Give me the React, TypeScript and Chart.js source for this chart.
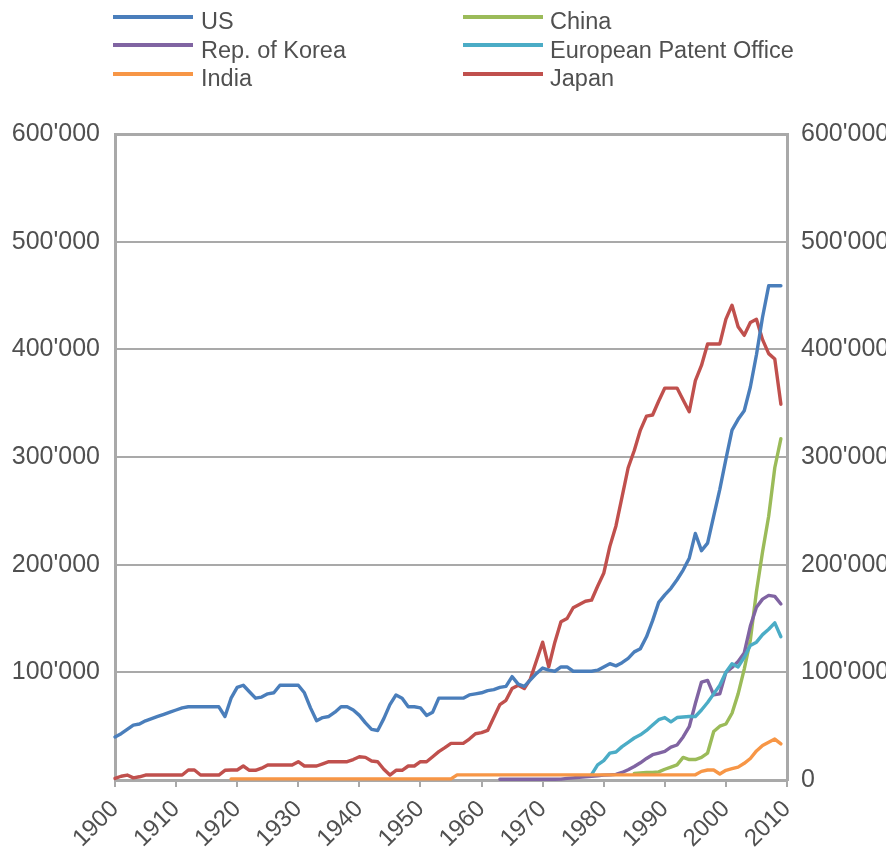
import React, { useEffect, useRef } from 'react';
import { Chart, registerables } from 'chart.js';

Chart.register(...registerables);

// ---------------- data ----------------
const xMin = 1900;
const xMax = 2010;
const yMax = 600000;

const usStart = 1900;
const usValues = [
  40000, 43000, 47000, 51000, 52000, 55000, 57000, 59000, 61000, 63000,
  65000, 67000, 68000, 68000, 68000, 68000, 68000, 68000, 59000, 76000,
  86000, 88000, 82000, 76000, 77000, 80000, 81000, 88000, 88000, 88000,
  88000, 81000, 67000, 55000, 58000, 59000, 63000, 68000, 68000, 65000,
  60000, 53000, 47000, 46000, 57000, 70000, 79000, 76000, 68000, 68000,
  67000, 60000, 63000, 76000, 76000, 76000, 76000, 76000, 79000, 80000,
  81000, 83000, 84000, 86000, 87000, 96000, 89000, 87000, 93000, 99000,
  104000, 102000, 101000, 105000, 105000, 101000, 101000, 101000, 101000, 102000,
  105000, 108000, 106000, 109000, 113000, 119000, 122000, 133000, 148000, 165000,
  172000, 178000, 186000, 195000, 206000, 229000, 213000, 220000, 245000, 270000,
  298000, 325000, 335000, 343000, 365000, 395000, 430000, 459000, 459000, 459000,
];

const japanStart = 1900;
const japanValues = [
  1500, 3500, 4600, 2000, 3000, 4600, 4600, 4600, 4600, 4600,
  4600, 4600, 9300, 9300, 4600, 4600, 4600, 4600, 9000, 9300,
  9300, 13000, 9000, 9000, 11000, 13900, 13900, 13900, 13900, 13900,
  17000, 13000, 13000, 13000, 15000, 17000, 17000, 17000, 17000, 19000,
  21600, 21000, 17600, 17000, 10000, 4600, 9000, 9000, 13000, 13000,
  17000, 17000, 21600, 26300, 30000, 34000, 34000, 34000, 38000, 43000,
  44000, 46000, 58000, 70000, 74000, 85000, 88000, 85000, 94000, 111000,
  128000, 105000, 128000, 147000, 150000, 160000, 163000, 166000, 167000, 180000,
  192000, 217000, 236000, 263000, 290000, 306000, 325000, 338000, 339000, 352000,
  364000, 364000, 364000, 353000, 342000, 371000, 385000, 405000, 405000, 405000,
  428000, 441000, 421000, 413000, 425000, 428000, 409000, 396000, 391000, 349000,
];

const koreaStart = 1963;
const koreaValues = [
  700, 700, 700, 700, 700, 700, 700, 700, 700, 700,
  800, 1500, 2000, 2500, 3000, 3500, 4000, 4500, 4800, 5200,
  7000, 9500, 12500, 16000, 20000, 23500, 25000, 26500, 30500, 32500,
  40000, 49500, 71000, 91000, 92500, 79000, 80000, 100000, 104500, 110000,
  118000, 143000, 160500, 168000, 171500, 170500, 163500,
];

const epoStart = 1978;
const epoValues = [
  5000, 14000, 18000, 25000, 26000, 31000, 35000, 39000, 42000, 46000,
  51000, 56000, 58000, 54000, 58000, 58500, 59000, 59000, 65000, 72000,
  80000, 88000, 100000, 108000, 105000, 114000, 125000, 128000, 135000, 140000,
  146000, 133000,
];

const chinaStart = 1985;
const chinaValues = [
  6000, 6500, 7000, 7000, 7500,
  10000, 12000, 14000, 21000, 19000,
  19000, 21000, 25000, 45000, 50000,
  52000, 62000, 80000, 103000, 130000,
  175000, 212000, 245000, 290000, 317000,
];

const indiaStart = 1919;
const indiaValues = [
  1000, 1000, 1000, 1000, 1000, 1000, 1000, 1000, 1000, 1000,
  1000, 1000, 1000, 1000, 1000, 1000, 1000, 1000, 1000, 1000,
  1000, 1000, 1000, 1000, 1000, 1000, 1000, 1000, 1000, 1000,
  1000, 1000, 1000, 1000, 1000, 1000, 1000,
  4800, 4800, 4800, 4800, 4800, 4800, 4800, 4800, 4800, 4800,
  4800, 4800, 4800, 4800, 4800, 4800, 4800, 4800, 4800, 4800,
  4800, 4800, 4800, 4800, 4800, 4800, 4800, 4800, 4800, 4800,
  4800, 4800, 4800, 4800, 4800, 4800, 4800, 4800, 4800, 4800,
  8000, 9300, 9300, 5600, 9000, 10500, 12000, 15500, 20000, 27000,
  32000, 35000, 38000, 33500,
];

const seriesNames = ['US', 'China', 'Rep. of Korea', 'European Patent Office', 'India', 'Japan'];
const seriesColors = ['#4a7ebb', '#9bbb59', '#8064a2', '#4bacc6', '#f79646', '#c0504d'];

// ---------------- layout ----------------
const CANVAS_W = 1000;
const CANVAS_H = 851;
const PLOT_LEFT = 115;
const PLOT_RIGHT = 787;
const PLOT_TOP = 134;
const PLOT_BOTTOM = 780;
const FONT = '"Liberation Sans", Arial, Helvetica, sans-serif';
const TEXT = '#505050';
const GRID = '#a9a9a9';

function toPoints(start: number, values: number[]) {
  return values.map((v, i) => ({ x: start + i, y: v }));
}

const legendItems = [
  { name: seriesNames[0], color: seriesColors[0], col: 0, row: 0 },
  { name: seriesNames[2], color: seriesColors[2], col: 0, row: 1 },
  { name: seriesNames[4], color: seriesColors[4], col: 0, row: 2 },
  { name: seriesNames[1], color: seriesColors[1], col: 1, row: 0 },
  { name: seriesNames[3], color: seriesColors[3], col: 1, row: 1 },
  { name: seriesNames[5], color: seriesColors[5], col: 1, row: 2 },
];

export default function App() {
  const ref = useRef<HTMLCanvasElement | null>(null);

  useEffect(() => {
    if (!ref.current) return;
    const mk = (label: string, color: string, data: { x: number; y: number }[]) => ({
      label,
      data,
      borderColor: color,
      backgroundColor: color,
      borderWidth: 3.4,
      pointRadius: 0,
      tension: 0,
      borderJoinStyle: 'round' as const,
      borderCapStyle: 'round' as const,
      clip: 6,
    });
    const chart = new Chart(ref.current, {
      type: 'line',
      data: {
        datasets: [
          mk('India', seriesColors[4], toPoints(indiaStart, indiaValues)),
          mk('US', seriesColors[0], toPoints(usStart, usValues)),
          mk('Japan', seriesColors[5], toPoints(japanStart, japanValues)),
          mk('European Patent Office', seriesColors[3], toPoints(epoStart, epoValues)),
          mk('Rep. of Korea', seriesColors[2], toPoints(koreaStart, koreaValues)),
          mk('China', seriesColors[1], toPoints(chinaStart, chinaValues)),
        ],
      },
      options: {
        responsive: false,
        animation: false,
        devicePixelRatio: 1,
        layout: { padding: { top: PLOT_TOP, left: 0, right: 0, bottom: 0 } },
        plugins: { legend: { display: false }, tooltip: { enabled: false } },
        scales: {
          x: {
            type: 'linear',
            min: xMin,
            max: xMax,
            afterFit: (s: any) => { s.height = CANVAS_H - PLOT_BOTTOM; },
            grid: { drawOnChartArea: false, drawTicks: true, tickLength: 7, color: GRID, lineWidth: 2 },
            border: { display: true, color: GRID, width: 3 },
            ticks: {
              stepSize: 10,
              autoSkip: false,
              maxRotation: 45,
              minRotation: 45,
              padding: 8,
              color: TEXT,
              font: { family: FONT, size: 24 },
              callback: (v: any) => String(v),
            },
          },
          y: {
            type: 'linear',
            position: 'left',
            min: 0,
            max: yMax,
            afterFit: (s: any) => { s.width = PLOT_LEFT; },
            grid: {
              drawTicks: false,
              color: GRID,
              lineWidth: (c: any) => (c.tick && c.tick.value === yMax ? 3 : 2),
            },
            border: { display: true, color: GRID, width: 3 },
            ticks: {
              stepSize: 100000,
              padding: 15,
              color: TEXT,
              font: { family: FONT, size: 25 },
              callback: (v: any) => (v === 0 ? '' : `${v / 1000}'000`),
            },
          },
          y2: {
            type: 'linear',
            position: 'right',
            min: 0,
            max: yMax,
            afterFit: (s: any) => { s.width = CANVAS_W - PLOT_RIGHT; },
            grid: { display: false, drawTicks: false },
            border: { display: true, color: GRID, width: 3 },
            ticks: {
              stepSize: 100000,
              padding: 14,
              color: TEXT,
              font: { family: FONT, size: 25 },
              callback: (v: any) => (v === 0 ? '0' : `${v / 1000}'000`),
            },
          },
        },
      },
    });
    return () => chart.destroy();
  }, []);

  const colLineX = [113, 463];
  const colTextX = [201, 550];
  const rowLineY = [17, 45, 74];
  const rowTextY = [21, 50, 78];

  return (
    <div
      style={{
        position: 'absolute',
        left: 0,
        top: 0,
        width: 886,
        height: 851,
        overflow: 'hidden',
        background: '#fff',
      }}
    >
      <canvas
        ref={ref}
        width={CANVAS_W}
        height={CANVAS_H}
        style={{ position: 'absolute', left: 0, top: 0, width: CANVAS_W, height: CANVAS_H }}
      />
      {legendItems.map((it) => (
        <React.Fragment key={it.name}>
          <div
            style={{
              position: 'absolute',
              left: colLineX[it.col],
              top: rowLineY[it.row] - 2,
              width: 80,
              height: 4,
              background: it.color,
            }}
          />
          <div
            style={{
              position: 'absolute',
              left: colTextX[it.col],
              top: rowTextY[it.row] - 13,
              height: 26,
              lineHeight: '26px',
              fontFamily: FONT,
              fontSize: 23.5,
              color: TEXT,
              whiteSpace: 'nowrap',
            }}
          >
            {it.name}
          </div>
        </React.Fragment>
      ))}
    </div>
  );
}
